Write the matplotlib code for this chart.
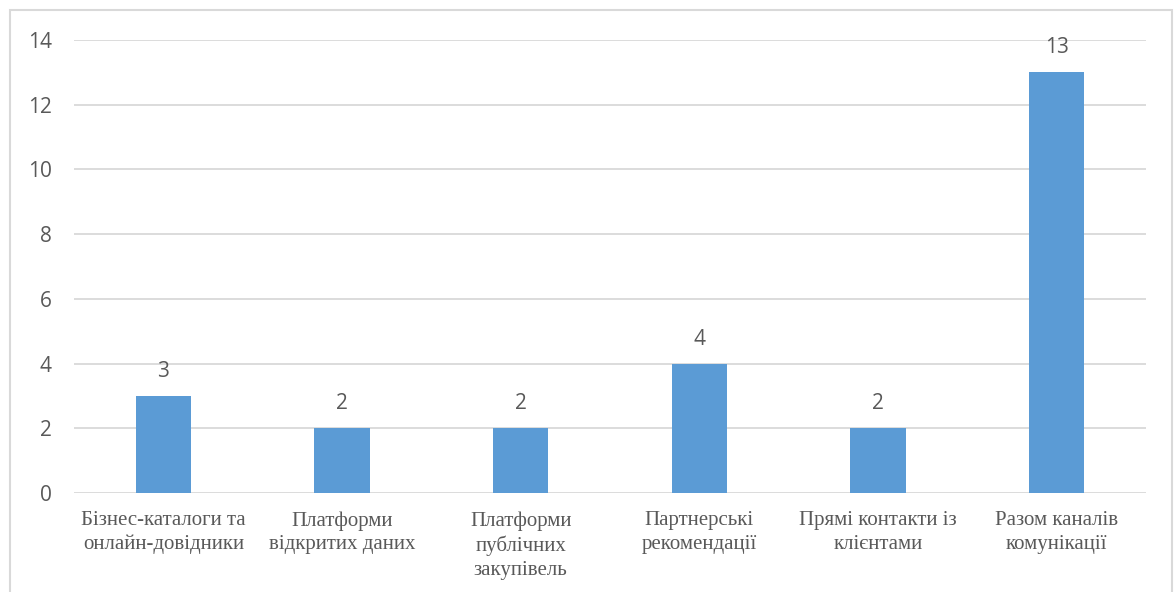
import matplotlib
matplotlib.use("Agg")
import matplotlib.pyplot as plt
from matplotlib.patches import Rectangle

categories = [
    "Бізнес-каталоги та\nонлайн-довідники",
    "Платформи\nвідкритих даних",
    "Платформи\nпублічних\nзакупівель",
    "Партнерські\nрекомендації",
    "Прямі контакти із\nклієнтами",
    "Разом каналів\nкомунікації",
]
values = [3, 2, 2, 4, 2, 13]
yticks = [0, 2, 4, 6, 8, 10, 12, 14]

bar_color = "#5B9BD5"
text_color = "#595959"
grid_color = "#D9D9D9"

fig = plt.figure(figsize=(11.76, 5.92), dpi=100)
ax = fig.add_axes([74 / 1176, 1 - 493 / 592, (1146 - 74) / 1176, (493 - 40) / 592])

x = range(len(values))
bars = ax.bar(x, values, width=0.31, color=bar_color, zorder=3)

ax.set_xlim(-0.5, len(values) - 0.5)
ax.set_ylim(0, 14)
ax.set_yticks(yticks)
ax.set_yticklabels([str(t) for t in yticks], fontsize=15, color=text_color, family="Open Sans")
ax.set_xticks(list(x))
ax.set_xticklabels(categories, fontsize=15, color=text_color, family="Liberation Serif",
                   linespacing=1.33, va="top")
ax.tick_params(axis="both", length=0)
ax.tick_params(axis="y", pad=16)
ax.tick_params(axis="x", pad=13)
ax.grid(axis="y", color=grid_color, linewidth=1.3, zorder=0)
for s in ax.spines.values():
    s.set_visible(False)

for b, v in zip(bars, values):
    ax.annotate(str(v), (b.get_x() + b.get_width() / 2, v), xytext=(0, 10),
                textcoords="offset points", ha="center", va="bottom",
                fontsize=15, color=text_color, family="Open Sans")

# outer frame of the chart area
fig.patches.append(Rectangle((10 / 1176, -0.02), 1162 / 1176, 1 - 10 / 592 + 0.02,
                             transform=fig.transFigure, fill=False,
                             edgecolor=grid_color, linewidth=1.5))

fig.savefig("out.png", dpi=100)
